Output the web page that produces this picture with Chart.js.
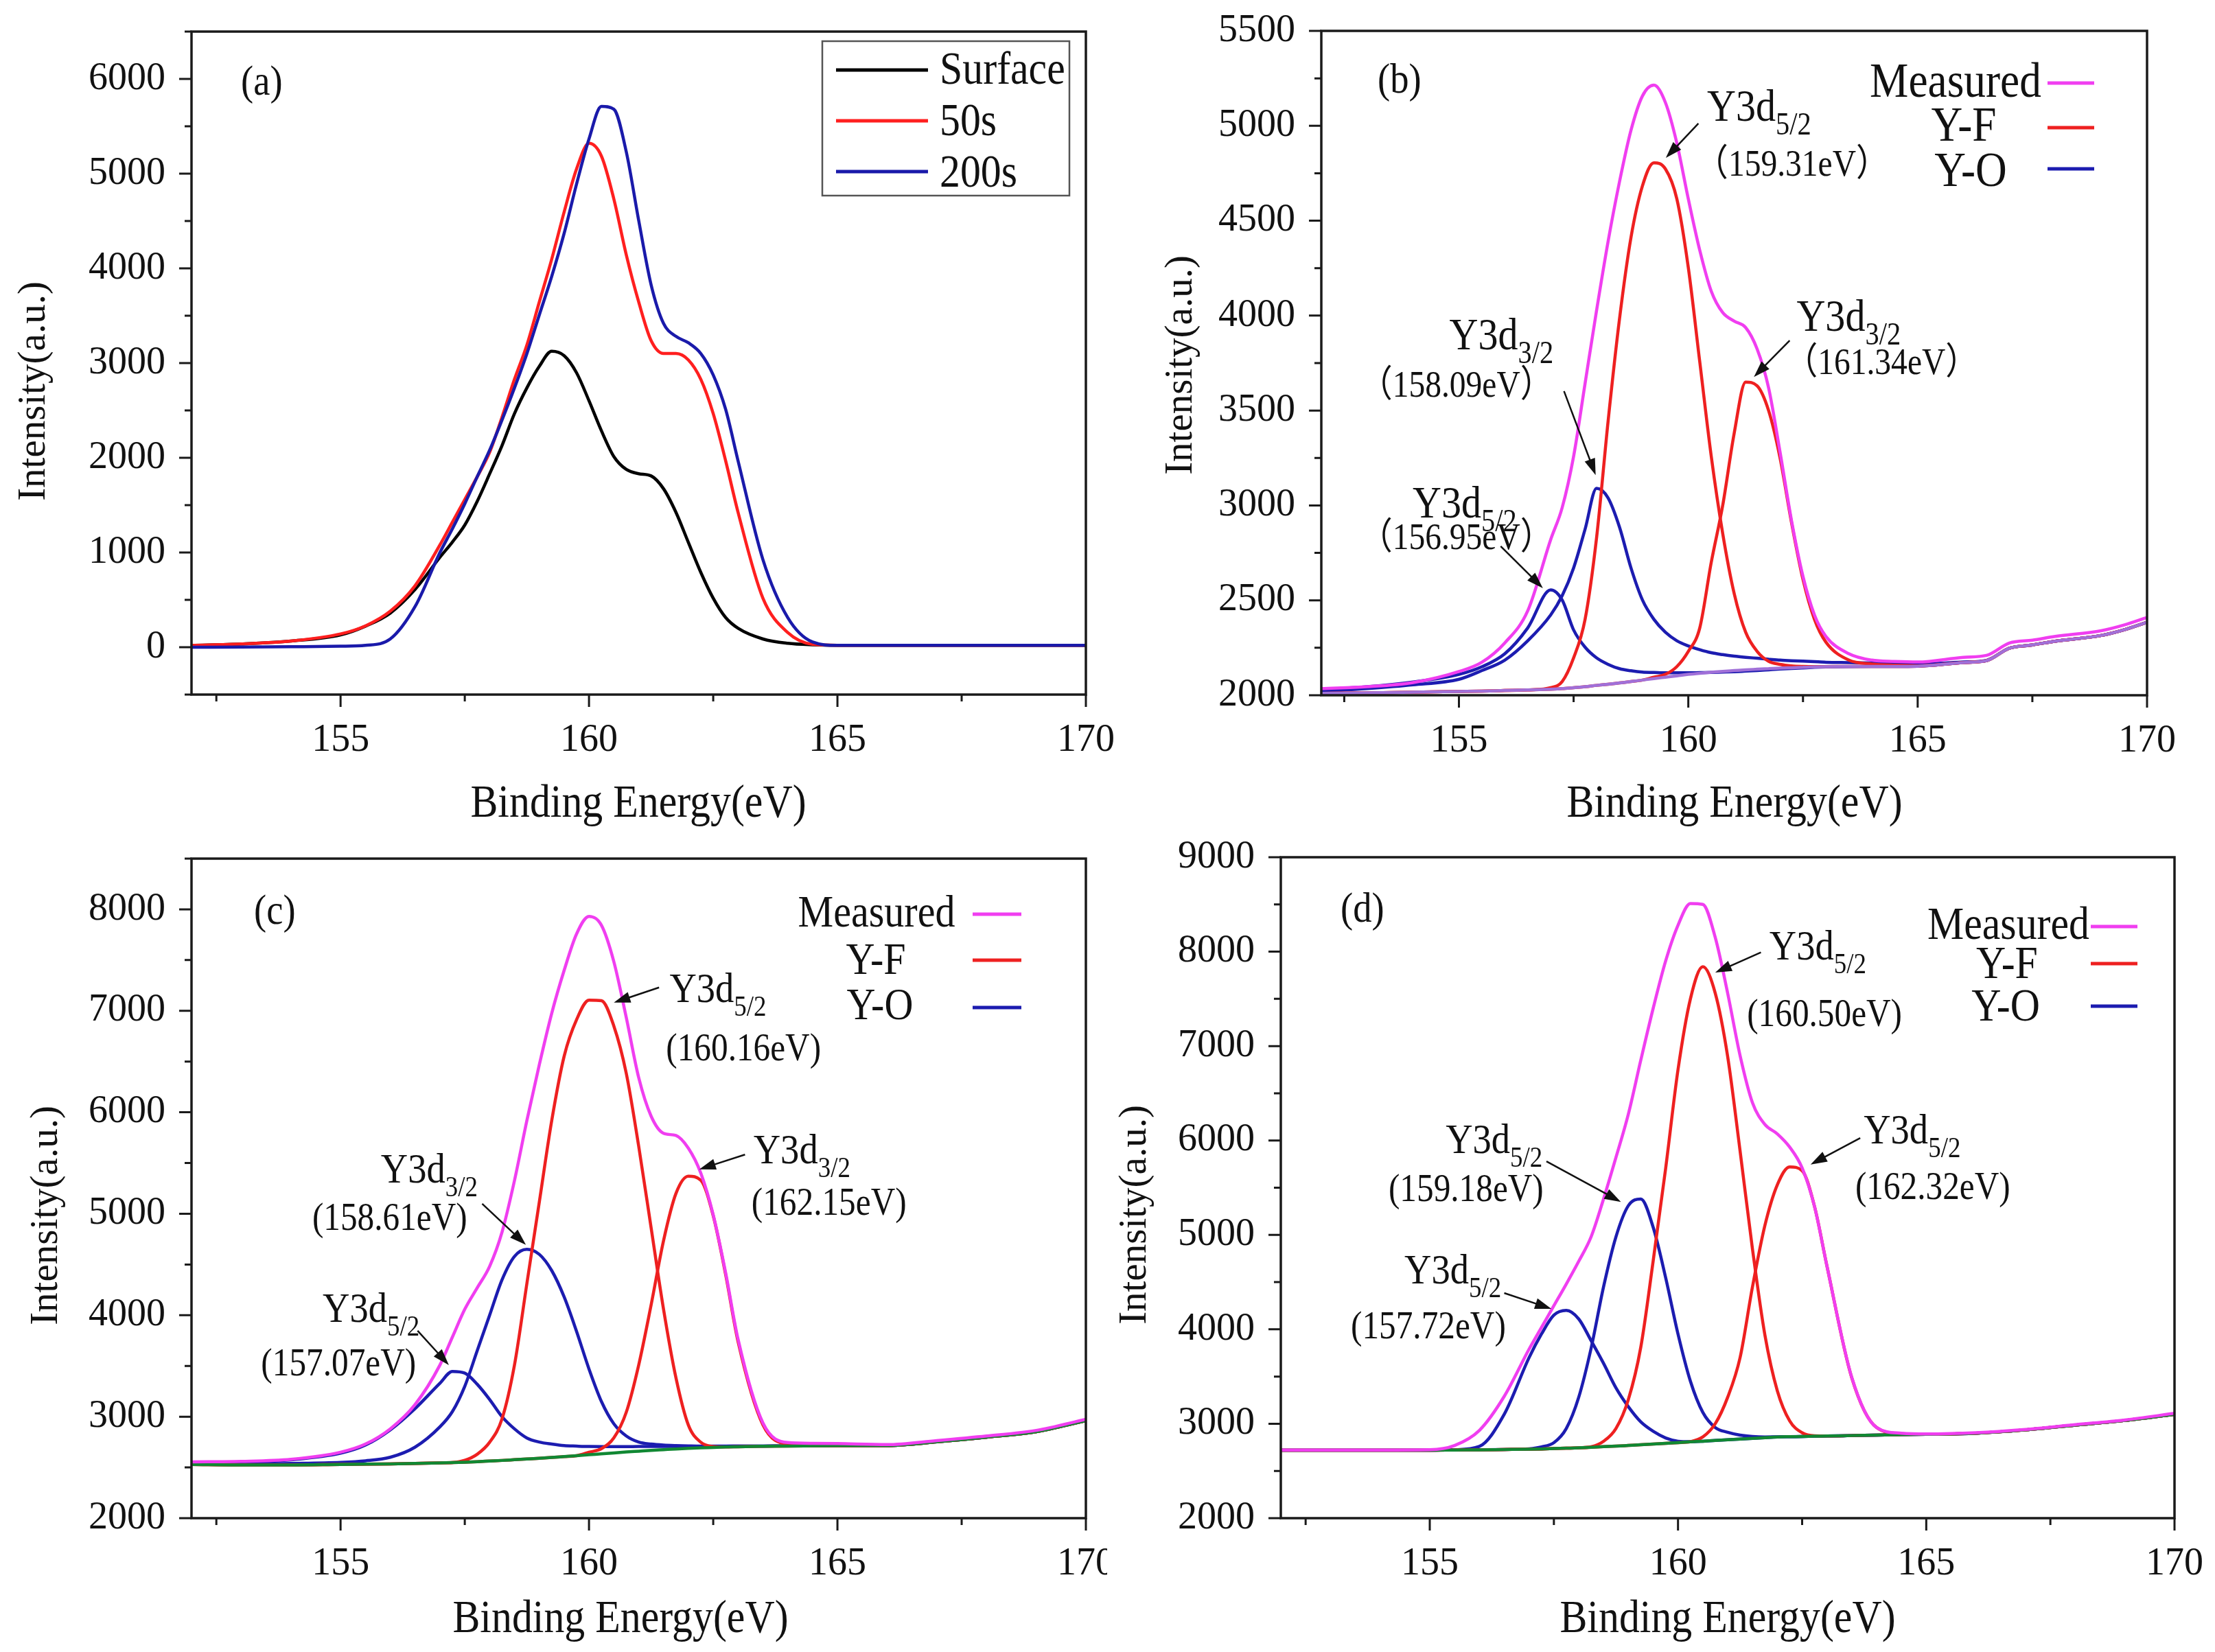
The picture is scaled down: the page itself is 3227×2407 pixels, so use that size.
<!DOCTYPE html>
<html>
<head>
<meta charset="utf-8">
<script src="https://cdn.jsdelivr.net/npm/chart.js@4.4.0/dist/chart.umd.min.js"></script>
<style>
  body { margin: 0; background: #fff; width: 3227px; height: 2407px; position: relative; overflow: hidden; }
  .panel { position: absolute; overflow: hidden; }
</style>
</head>
<body>
<div class="panel" style="left:0;top:0;width:1650px;height:1215px"><canvas id="chartA" width="1650" height="1215"></canvas></div>
<div class="panel" style="left:1650px;top:0;width:1577px;height:1215px"><canvas id="chartB" width="1577" height="1215"></canvas></div>
<div class="panel" style="left:0;top:1200px;width:1613px;height:1207px"><canvas id="chartC" width="1650" height="1207"></canvas></div>
<div class="panel" style="left:1613px;top:1200px;width:1614px;height:1207px"><canvas id="chartD" width="1614" height="1207"></canvas></div>
<script>
// binding energy grid (eV)
const energy = [152, 153, 154, 155, 155.5, 156, 156.5, 157, 157.25, 157.5, 157.75, 158, 158.25, 158.5, 158.75, 159, 159.25, 159.5, 159.75, 160,
  160.25, 160.5, 160.75, 161, 161.25, 161.5, 161.75, 162, 162.25, 162.5, 162.75, 163, 163.5, 164, 164.5, 165, 166, 167, 168, 169, 170];
const energyB = [152, 153, 154, 155, 155.5, 156, 156.5, 157, 157.25, 157.5, 157.75, 158, 158.25, 158.5, 158.75, 159, 159.25, 159.5, 159.75, 160,
  160.25, 160.5, 160.75, 161, 161.25, 161.5, 161.75, 162, 162.25, 162.5, 162.75, 163, 163.5, 164, 164.5, 165, 166, 166.5, 167, 167.5, 168, 169, 169.5, 170];

// (a) depth profile
const surfaceA = [20, 35, 65, 130, 222, 360, 610, 950, 1110, 1290, 1540, 1830, 2130, 2466, 2738, 2965, 3125, 3078, 2897, 2602,
  2285, 2013, 1877, 1832, 1809, 1673, 1424, 1106, 790, 517, 313, 200, 87, 41, 25, 20, 20, 20, 20, 20, 20];
const sputter50A = [20, 35, 65, 140, 225, 380, 650, 1080, 1320, 1560, 1800, 2058, 2430, 2829, 3191, 3645, 4098, 4596, 5050, 5320,
  5185, 4732, 4143, 3645, 3237, 3101, 3101, 3033, 2829, 2466, 1968, 1424, 517, 155, 30, 20, 20, 20, 20, 20, 20];
const sputter200A = [0, 2, 5, 10, 20, 87, 430, 1000, 1250, 1515, 1800, 2080, 2400, 2738, 3100, 3509, 3916, 4370, 4891, 5367,
  5710, 5680, 5231, 4506, 3826, 3418, 3282, 3214, 3101, 2874, 2511, 1968, 925, 313, 55, 20, 20, 20, 20, 20, 20];

// (b) fit, on energyB
const measuredB = [2035, 2045, 2067, 2125, 2174, 2276, 2445, 2820, 2988, 3259, 3643, 4027, 4389, 4705, 4976, 5157, 5214, 5123, 4909, 4615,
  4344, 4129, 4016, 3971, 3937, 3824, 3620, 3281, 2920, 2626, 2423, 2310, 2219, 2185, 2178, 2175, 2200, 2210, 2275, 2290, 2310, 2340, 2370, 2410];
const backgroundB = [2010, 2013, 2016, 2020, 2022, 2025, 2028, 2032, 2035, 2040, 2045, 2052, 2058, 2065, 2072, 2080, 2088, 2095, 2102, 2110,
  2116, 2121, 2126, 2130, 2134, 2137, 2140, 2143, 2145, 2147, 2149, 2150, 2151, 2152, 2152, 2153, 2172, 2182, 2248, 2265, 2285, 2315, 2345, 2385];
const yf1B = [2010, 2013, 2016, 2020, 2022, 2025, 2028, 2040, 2072, 2197, 2400, 2829, 3440, 3982, 4411, 4683, 4805, 4773, 4615, 4253,
  3756, 3259, 2852, 2536, 2332, 2231, 2179, 2163, 2155, 2152, 2151, 2151, 2152, 2152, 2152, 2153, 2172, 2182, 2248, 2265, 2285, 2315, 2345, 2385];
const yf2B = [2010, 2013, 2016, 2020, 2022, 2025, 2028, 2032, 2035, 2040, 2045, 2052, 2058, 2065, 2072, 2080, 2095, 2110, 2151, 2231,
  2355, 2700, 3000, 3380, 3650, 3630, 3500, 3250, 2910, 2610, 2400, 2280, 2185, 2165, 2158, 2155, 2172, 2182, 2248, 2265, 2285, 2315, 2345, 2385];
const yo1B = [2020, 2035, 2055, 2084, 2130, 2185, 2287, 2423, 2524, 2671, 2875, 3090, 3040, 2886, 2671, 2502, 2400, 2332, 2287, 2260,
  2240, 2224, 2214, 2206, 2200, 2195, 2190, 2185, 2182, 2180, 2177, 2174, 2172, 2170, 2168, 2165, 2175, 2184, 2248, 2265, 2285, 2315, 2345, 2385];
const yo2B = [2030, 2045, 2070, 2110, 2150, 2219, 2355, 2555, 2502, 2344, 2253, 2197, 2163, 2140, 2129, 2122, 2120, 2118, 2118, 2118,
  2119, 2120, 2122, 2124, 2127, 2130, 2134, 2138, 2141, 2144, 2147, 2149, 2151, 2152, 2152, 2153, 2172, 2182, 2248, 2265, 2285, 2315, 2345, 2385];

// (c) fit
const measuredC = [2555, 2560, 2580, 2650, 2730, 2880, 3120, 3509, 3784, 4059, 4270, 4482, 4820, 5327, 5919, 6469, 6976, 7399, 7758, 7930,
  7843, 7484, 6934, 6342, 5962, 5793, 5771, 5645, 5400, 4989, 4418, 3763, 2939, 2745, 2738, 2735, 2725, 2765, 2810, 2865, 2975];
const backgroundC = [2530, 2525, 2525, 2530, 2532, 2535, 2540, 2545, 2548, 2552, 2557, 2563, 2569, 2576, 2583, 2590, 2598, 2607, 2616, 2625,
  2634, 2643, 2652, 2660, 2668, 2675, 2682, 2688, 2693, 2697, 2701, 2704, 2708, 2711, 2713, 2715, 2716, 2752, 2798, 2852, 2960];
const yf1C = [2530, 2525, 2525, 2530, 2532, 2535, 2540, 2545, 2548, 2570, 2630, 2748, 2980, 3509, 4313, 5116, 5919, 6553, 6913, 7105,
  7100, 6850, 6384, 5666, 4862, 4059, 3383, 2917, 2748, 2706, 2701, 2704, 2708, 2711, 2713, 2715, 2716, 2752, 2798, 2852, 2960];
const yf2C = [2530, 2525, 2525, 2530, 2532, 2535, 2540, 2545, 2548, 2552, 2557, 2563, 2569, 2576, 2583, 2590, 2598, 2607, 2616, 2650,
  2685, 2791, 3044, 3509, 4101, 4735, 5200, 5370, 5330, 4980, 4400, 3740, 2920, 2730, 2718, 2715, 2716, 2752, 2798, 2852, 2960];
const yo1C = [2535, 2535, 2540, 2550, 2565, 2600, 2700, 2900, 3050, 3300, 3650, 4000, 4350, 4580, 4650, 4600, 4440, 4180, 3840, 3470,
  3150, 2930, 2810, 2750, 2730, 2720, 2715, 2712, 2710, 2710, 2710, 2710, 2711, 2712, 2713, 2715, 2716, 2752, 2798, 2852, 2960];
const yo2C = [2545, 2548, 2575, 2640, 2720, 2870, 3080, 3330, 3446, 3430, 3320, 3170, 3000, 2880, 2790, 2750, 2730, 2715, 2710, 2706,
  2705, 2705, 2705, 2706, 2706, 2707, 2707, 2708, 2708, 2709, 2709, 2710, 2711, 2712, 2713, 2715, 2716, 2752, 2798, 2852, 2960];

// (d) fit
const measuredD = [2722, 2722, 2722, 2725, 2770, 2930, 3290, 3790, 4020, 4250, 4480, 4720, 4980, 5380, 5820, 6280, 6850, 7400, 7900, 8280,
  8510, 8500, 8150, 7560, 6900, 6400, 6170, 6070, 5930, 5710, 5300, 4670, 3490, 2960, 2900, 2892, 2905, 2940, 2990, 3040, 3110];
const backgroundD = [2720, 2720, 2720, 2720, 2722, 2724, 2727, 2730, 2733, 2737, 2741, 2745, 2751, 2757, 2763, 2770, 2777, 2785, 2792, 2800,
  2808, 2815, 2823, 2830, 2838, 2845, 2853, 2860, 2863, 2865, 2868, 2870, 2875, 2880, 2885, 2888, 2900, 2935, 2985, 3035, 3100];
const yf1D = [2720, 2720, 2720, 2720, 2722, 2724, 2727, 2730, 2733, 2737, 2741, 2745, 2756, 2814, 2950, 3257, 3810, 4725, 5700, 6750,
  7500, 7840, 7560, 6890, 5890, 4850, 3940, 3350, 3030, 2905, 2872, 2870, 2875, 2880, 2885, 2888, 2900, 2935, 2985, 3035, 3100];
const yf2D = [2720, 2720, 2720, 2720, 2722, 2724, 2727, 2730, 2733, 2737, 2741, 2745, 2751, 2757, 2763, 2770, 2777, 2785, 2792, 2800,
  2810, 2860, 3000, 3280, 3700, 4450, 5100, 5530, 5720, 5680, 5300, 4670, 3486, 2960, 2895, 2890, 2900, 2935, 2985, 3035, 3100];
const yo1D = [2720, 2720, 2720, 2720, 2722, 2724, 2727, 2735, 2755, 2800, 2950, 3280, 3800, 4450, 4980, 5310, 5380, 5080, 4550, 3950,
  3450, 3120, 2960, 2910, 2880, 2865, 2860, 2862, 2863, 2865, 2868, 2870, 2875, 2880, 2885, 2888, 2900, 2935, 2985, 3035, 3100];
const yo2D = [2720, 2720, 2720, 2720, 2725, 2760, 3100, 3700, 3950, 4150, 4200, 4110, 3880, 3640, 3380, 3180, 3020, 2920, 2850, 2815,
  2810, 2815, 2823, 2830, 2838, 2845, 2853, 2860, 2863, 2865, 2868, 2870, 2875, 2880, 2885, 2888, 2900, 2935, 2985, 3035, 3100];

const FONT = "'Liberation Serif', 'Times New Roman', serif";
const FONT_CJK = "'Noto Sans CJK SC', 'Noto Sans CJK JP', serif";
const SQUEEZE = 0.88;   // the original lettering is a bit narrow
const MAGENTA = '#f03ef0', RED = '#ee2020', BLUE = '#1c1cb0', GREEN = '#118833';

function drawText(ctx, s, x, y, size, align, family) {
  ctx.save();
  ctx.font = size + 'px ' + (family || FONT);
  ctx.translate(x, y);
  ctx.scale(SQUEEZE, 1);
  ctx.textAlign = align || 'left';
  ctx.textBaseline = 'alphabetic';
  ctx.fillText(s, 0, 0);
  const w = ctx.measureText(s).width * SQUEEZE;
  ctx.restore();
  return w;
}

// value label; full-width brackets (panel b) come from the CJK font
function drawValue(ctx, s, x, y, size) {
  if (s[0] !== '（') return drawText(ctx, s, x, y, size, 'left');
  let w = drawText(ctx, '（', x, y, size, 'left', FONT_CJK);
  w += drawText(ctx, s.slice(1, -1), x + w, y, size, 'left');
  w += drawText(ctx, '）', x + w, y, size, 'left', FONT_CJK);
  return w;
}

function drawArrow(ctx, x1, y1, x2, y2) {
  const ang = Math.atan2(y2 - y1, x2 - x1), len = 24, half = 8;
  const c = Math.cos(ang), s = Math.sin(ang);
  ctx.beginPath();
  ctx.moveTo(x1, y1);
  ctx.lineTo(x2 - len * 0.8 * c, y2 - len * 0.8 * s);
  ctx.stroke();
  ctx.beginPath();
  ctx.moveTo(x2, y2);
  ctx.lineTo(x2 - len * c + half * s, y2 - len * s - half * c);
  ctx.lineTo(x2 - len * c - half * s, y2 - len * s + half * c);
  ctx.closePath();
  ctx.fill();
}

function decor(cfg) {
  return {
    id: 'decor',
    afterDraw(chart) {
      const {ctx, chartArea: a} = chart;
      const xs = chart.scales.x, ys = chart.scales.y;
      ctx.save();
      ctx.fillStyle = '#111';
      ctx.strokeStyle = '#1a1a1a';

      // frame
      ctx.lineWidth = 3.5;
      ctx.strokeRect(a.left, a.top, a.right - a.left, a.bottom - a.top);

      // outward ticks
      ctx.lineWidth = 3;
      ctx.beginPath();
      xs.ticks.forEach(t => {
        const px = xs.getPixelForValue(t.value);
        const len = t.value % 5 === 0 ? 18 : 10;
        ctx.moveTo(px, a.bottom);
        ctx.lineTo(px, a.bottom + len);
      });
      ys.ticks.forEach(t => {
        const py = ys.getPixelForValue(t.value);
        const len = t.value % cfg.yMajor === 0 ? 18 : 10;
        ctx.moveTo(a.left, py);
        ctx.lineTo(a.left - len, py);
      });
      ctx.stroke();

      // axis titles
      drawText(ctx, 'Binding Energy(eV)', cfg.xTitle[0], cfg.xTitle[1], 68, 'center');
      ctx.save();
      ctx.translate(cfg.yTitle[0], cfg.yTitle[1]);
      ctx.rotate(-Math.PI / 2);
      ctx.font = '57px ' + FONT;
      ctx.textAlign = 'center';
      ctx.textBaseline = 'alphabetic';
      ctx.fillText('Intensity(a.u.)', 0, 0);
      ctx.restore();

      // panel letter
      drawText(ctx, cfg.letter, cfg.letterAt[0], cfg.letterAt[1], 62, 'left');

      // legend
      const lg = cfg.legend;
      if (lg.box) {
        ctx.lineWidth = 2.5;
        ctx.strokeStyle = '#555';
        ctx.strokeRect(lg.box[0], lg.box[1], lg.box[2], lg.box[3]);
      }
      lg.items.forEach(it => {
        ctx.strokeStyle = it.color;
        ctx.lineWidth = 5;
        ctx.beginPath();
        ctx.moveTo(it.line[0], it.line[2]);
        ctx.lineTo(it.line[1], it.line[2]);
        ctx.stroke();
        drawText(ctx, it.label, it.text[0], it.text[1], lg.size, lg.align);
      });

      // peak labels with arrows, placed in data units
      ctx.strokeStyle = '#111';
      ctx.lineWidth = 2.5;
      (cfg.notes || []).forEach(n => {
        const px = e => xs.getPixelForValue(e), py = v => ys.getPixelForValue(v);
        const w = drawText(ctx, 'Y3d', px(n.name[0]), py(n.name[1]), cfg.noteSize, 'left');
        drawText(ctx, n.sub, px(n.name[0]) + w, py(n.name[1]) + 20, cfg.subSize, 'left');
        drawValue(ctx, n.value, px(n.at[0]), py(n.at[1]), cfg.valueSize);
        drawArrow(ctx, px(n.from[0]), py(n.from[1]), px(n.to[0]), py(n.to[1]));
      });
      ctx.restore();
    }
  };
}

function makePanel(id, cfg) {
  const canvas = document.getElementById(id);
  const W = canvas.width, H = canvas.height, a = cfg.area;
  new Chart(canvas.getContext('2d'), {
    type: 'line',
    data: {
      datasets: cfg.series.map(s => ({
        label: s.label,
        data: cfg.energy.map((e, i) => ({x: e, y: s.values[i]})),
        borderColor: s.color,
        borderWidth: 4.5,
        pointRadius: 0,
        fill: false,
        cubicInterpolationMode: 'monotone',
        order: s.order
      }))
    },
    options: {
      responsive: false,
      animation: false,
      devicePixelRatio: 1,
      layout: {autoPadding: false, padding: {left: 0, top: a.top, right: W - a.right, bottom: 0}},
      plugins: {legend: {display: false}, tooltip: {enabled: false}},
      scales: {
        x: {
          type: 'linear', min: 152, max: 170,
          afterFit: s => { s.height = H - a.bottom; s.paddingLeft = 0; s.paddingRight = 0; },
          grid: {display: false}, border: {display: false},
          ticks: {
            stepSize: 2.5, includeBounds: false, autoSkip: false, maxRotation: 0, padding: 26,
            color: '#111', font: {size: 56, family: FONT},
            callback: v => (v % 5 === 0 ? v : '')
          }
        },
        y: {
          min: cfg.yMin, max: cfg.yMax,
          afterFit: s => { s.width = a.left; s.paddingTop = 0; s.paddingBottom = 0; },
          grid: {display: false}, border: {display: false},
          ticks: {
            stepSize: cfg.yMinor, includeBounds: false, autoSkip: false, padding: 30,
            color: '#111', font: {size: 56, family: FONT},
            callback: v => (v % cfg.yMajor === 0 ? v : '')
          }
        }
      }
    },
    plugins: [decor(cfg)]
  });
}

makePanel('chartA', {
  energy: energy, area: {left: 279, right: 1582, top: 46, bottom: 1012},
  yMin: -500, yMax: 6500, yMinor: 500, yMajor: 1000,
  xTitle: [930, 1190], yTitle: [65, 570], letter: '(a)', letterAt: [351, 138],
  series: [
    {label: 'Surface', values: surfaceA, color: '#000000', order: 3},
    {label: '50s', values: sputter50A, color: '#ff1f1f', order: 2},
    {label: '200s', values: sputter200A, color: '#1a1aaa', order: 1}
  ],
  legend: {
    box: [1198, 60, 360, 225], size: 68, align: 'left',
    items: [
      {label: 'Surface', color: '#000000', line: [1218, 1352, 102], text: [1369, 122]},
      {label: '50s', color: '#ff1f1f', line: [1218, 1352, 176], text: [1369, 197]},
      {label: '200s', color: '#1a1aaa', line: [1218, 1352, 250], text: [1369, 272]}
    ]
  }
});

makePanel('chartB', {
  energy: energyB, area: {left: 275, right: 1478, top: 45, bottom: 1013},
  yMin: 2000, yMax: 5500, yMinor: 250, yMajor: 500,
  xTitle: [877, 1190], yTitle: [86, 532], letter: '(b)', letterAt: [357, 135],
  noteSize: 66, subSize: 46, valueSize: 54,
  series: [
    {label: 'Y-O 156.95', values: yo2B, color: BLUE, order: 6},
    {label: 'Y-O 158.09', values: yo1B, color: BLUE, order: 5},
    {label: 'Y-F 161.34', values: yf2B, color: RED, order: 4},
    {label: 'Y-F 159.31', values: yf1B, color: RED, order: 3},
    {label: 'Background', values: backgroundB, color: '#a070d8', order: 2},
    {label: 'Measured', values: measuredB, color: MAGENTA, order: 1}
  ],
  legend: {
    size: 72, align: 'center',
    items: [
      {label: 'Measured', color: MAGENTA, line: [1333, 1401, 121], text: [1199, 141]},
      {label: 'Y-F', color: RED, line: [1333, 1401, 186], text: [1211, 205]},
      {label: 'Y-O', color: BLUE, line: [1333, 1401, 246], text: [1221, 271]}
    ]
  },
  notes: [
    {sub: '5/2', name: [160.41, 5026], value: '（159.31eV）', at: [160.16, 4737], from: [160.22, 5012], to: [159.51, 4831]},
    {sub: '3/2', name: [162.36, 3920], value: '（161.34eV）', at: [162.11, 3692], from: [162.21, 3869], to: [161.43, 3677]},
    {sub: '3/2', name: [154.79, 3822], value: '（158.09eV）', at: [152.84, 3573], from: [157.29, 3602], to: [157.98, 3160]},
    {sub: '5/2', name: [153.99, 2936], value: '（156.95eV）', at: [152.84, 2770], from: [155.91, 2785], to: [156.83, 2564]}
  ]
});

makePanel('chartC', {
  energy: energy, area: {left: 279, right: 1582, top: 51, bottom: 1012},
  yMin: 2000, yMax: 8500, yMinor: 500, yMajor: 1000,
  xTitle: [904, 1178], yTitle: [83, 571], letter: '(c)', letterAt: [370, 146],
  noteSize: 62, subSize: 42, valueSize: 56,
  series: [
    {label: 'Y-O 157.07', values: yo2C, color: BLUE, order: 6},
    {label: 'Y-O 158.61', values: yo1C, color: BLUE, order: 5},
    {label: 'Y-F 162.15', values: yf2C, color: RED, order: 4},
    {label: 'Y-F 160.16', values: yf1C, color: RED, order: 3},
    {label: 'Background', values: backgroundC, color: GREEN, order: 2},
    {label: 'Measured', values: measuredC, color: MAGENTA, order: 1}
  ],
  legend: {
    size: 66, align: 'center',
    items: [
      {label: 'Measured', color: MAGENTA, line: [1417, 1488, 132], text: [1277, 150]},
      {label: 'Y-F', color: RED, line: [1417, 1488, 199], text: [1276, 219]},
      {label: 'Y-O', color: BLUE, line: [1417, 1488, 268], text: [1282, 285]}
    ]
  },
  notes: [
    {sub: '5/2', name: [161.62, 7084], value: '(160.16eV)', at: [161.55, 6513], from: [161.41, 7230], to: [160.50, 7081]},
    {sub: '3/2', name: [163.31, 5498], value: '(162.15eV)', at: [163.27, 4991], from: [163.14, 5583], to: [162.22, 5437]},
    {sub: '3/2', name: [155.81, 5309], value: '(158.61eV)', at: [154.43, 4842], from: [157.85, 5099], to: [158.73, 4693]},
    {sub: '5/2', name: [154.64, 3935], value: '(157.07eV)', at: [153.40, 3407], from: [156.55, 3847], to: [157.18, 3509]}
  ]
});

makePanel('chartD', {
  energy: energy, area: {left: 253, right: 1555, top: 49, bottom: 1012},
  yMin: 2000, yMax: 9000, yMinor: 500, yMajor: 1000,
  xTitle: [904, 1178], yTitle: [56, 570], letter: '(d)', letterAt: [340, 143],
  noteSize: 62, subSize: 42, valueSize: 56,
  series: [
    {label: 'Y-O 157.72', values: yo2D, color: BLUE, order: 6},
    {label: 'Y-O 159.18', values: yo1D, color: BLUE, order: 5},
    {label: 'Y-F 162.32', values: yf2D, color: RED, order: 4},
    {label: 'Y-F 160.50', values: yf1D, color: RED, order: 3},
    {label: 'Background', values: backgroundD, color: GREEN, order: 2},
    {label: 'Measured', values: measuredD, color: MAGENTA, order: 1}
  ],
  legend: {
    size: 68, align: 'center',
    items: [
      {label: 'Measured', color: MAGENTA, line: [1433, 1501, 150], text: [1313, 168]},
      {label: 'Y-F', color: RED, line: [1433, 1501, 204], text: [1311, 225]},
      {label: 'Y-O', color: BLUE, line: [1433, 1501, 266], text: [1309, 287]}
    ]
  },
  notes: [
    {sub: '5/2', name: [161.84, 7916], value: '(160.50eV)', at: [161.39, 7211], from: [161.67, 7992], to: [160.75, 7778]},
    {sub: '5/2', name: [163.74, 5968], value: '(162.32eV)', at: [163.57, 5379], from: [163.67, 6026], to: [162.67, 5746]},
    {sub: '5/2', name: [155.32, 5866], value: '(159.18eV)', at: [154.17, 5357], from: [157.35, 5779], to: [158.85, 5350]},
    {sub: '5/2', name: [154.49, 4485], value: '(157.72eV)', at: [153.41, 3904], from: [156.50, 4384], to: [157.45, 4217]}
  ]
});
</script>
</body>
</html>
